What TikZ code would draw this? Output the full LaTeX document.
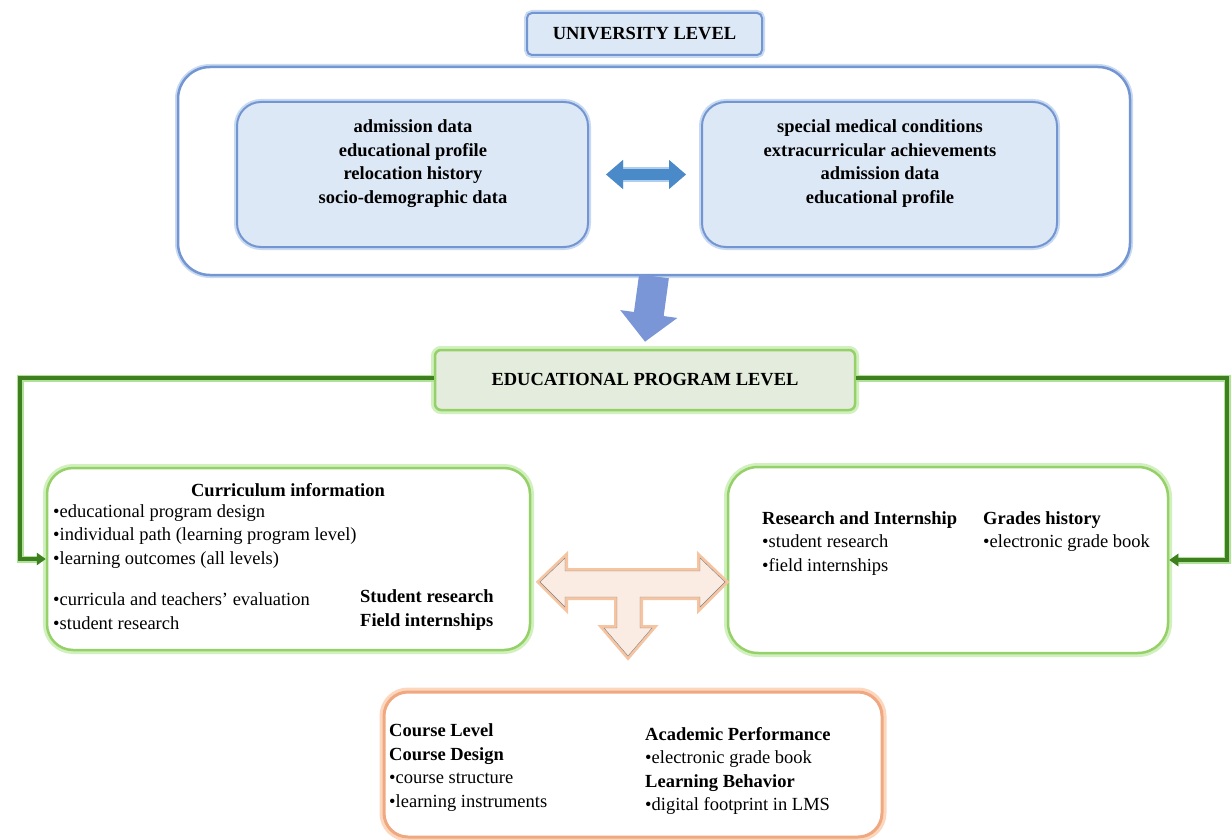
\documentclass[tikz,border=0pt]{standalone}
\usepackage{fontspec}
\setmainfont{Liberation Serif}
\usetikzlibrary{arrows.meta,positioning}

\definecolor{uniline}{RGB}{115,150,210}
\definecolor{uniglow}{RGB}{200,218,242}
\definecolor{unifill}{RGB}{221,232,246}
\definecolor{swapblue}{RGB}{75,138,200}
\definecolor{swapglow}{RGB}{175,205,238}
\definecolor{passblue}{RGB}{122,150,214}
\definecolor{progline}{RGB}{150,208,105}
\definecolor{progglow}{RGB}{208,240,190}
\definecolor{progfill}{RGB}{228,236,222}
\definecolor{linkgreen}{RGB}{62,128,32}
\definecolor{linkglow}{RGB}{175,225,150}
\definecolor{courseline}{RGB}{240,168,128}
\definecolor{courseglow}{RGB}{252,215,190}
\definecolor{teefill}{RGB}{250,236,226}
\definecolor{teeglow}{RGB}{246,196,160}

\begin{document}
\begin{tikzpicture}[
  x=1pt,y=-1pt,
  txt/.style={font=\fontsize{18.5}{23.5}\selectfont,inner sep=0pt,align=left},
  bold/.style={font=\fontsize{18.5}{23.5}\selectfont\bfseries,inner sep=0pt},
  box/.style={rectangle,inner sep=0pt},
  unibox/.style={box,draw=uniline,line width=2pt,fill=unifill,
    preaction={draw=uniglow,line width=6pt}},
  progbox/.style={box,draw=progline,line width=2.5pt,
    preaction={draw=progglow,line width=8pt}},
  coursebox/.style={box,draw=courseline,line width=3pt,fill=white,
    preaction={draw=courseglow,line width=9pt}},
  link/.style={draw=linkgreen,line width=4pt,-{Triangle[width=12pt,length=9pt]},
    preaction={draw=linkglow,line width=7pt}},
  swap/.style={draw=swapblue,line width=11pt,
    {Triangle[width=28pt,length=17pt]}-{Triangle[width=28pt,length=17pt]}},
  pass/.style={draw=passblue,line width=30pt,-{Triangle[width=56pt,length=28pt]}},
  tee/.style={fill=teefill,draw=gray,thin,preaction={draw=teeglow,line width=6pt}}]

  \useasboundingbox (0,0) rectangle (1231,840);

  % university level
  \node[unibox,rounded corners=5pt,minimum width=235pt,minimum height=42pt]
    (uni) at (644.5,34) {};
  \node[bold] (unitxt) at (uni.center) {UNIVERSITY LEVEL};
  \node[unibox,fill=white,line width=2.5pt,rounded corners=32pt,
    minimum width=952pt,minimum height=208pt] (outer) at (654,171) {};
  \node[unibox,rounded corners=24pt,minimum width=351pt,minimum height=145pt]
    (demoL) at (412.5,174.5) {};
  \node[unibox,rounded corners=24pt,minimum width=355pt,minimum height=145pt]
    (demoR) at (879.5,174.5) {};
  \node[bold,align=center] (demoLtxt) at (413,163.5)
    {admission data\\educational profile\\relocation history\\socio-demographic data};
  \node[bold,align=center] (demoRtxt) at (880,163.5)
    {special medical conditions\\extracurricular achievements\\admission data\\educational profile};
  \draw[swap,preaction={draw=swapglow,line width=15pt}]
    ([xshift=17pt]demoL.east) -- ([xshift=-15pt]demoR.west);

  % educational program level
  \node[progbox,fill=progfill,rounded corners=6pt,minimum width=420pt,
    minimum height=60pt] (prog) at (645,380) {};
  \node[bold] (progtxt) at (prog.center) {EDUCATIONAL PROGRAM LEVEL};
  \draw[pass] (outer.south) -- ([yshift=7pt]prog.north);

  \node[progbox,fill=white,rounded corners=26pt,minimum width=483pt,
    minimum height=182pt] (curr) at (288.5,559) {};
  \node[progbox,fill=white,rounded corners=30pt,minimum width=440pt,
    minimum height=186pt] (rsch) at (948,560) {};

  \coordinate (bendL) at (20,378);
  \coordinate (bendR) at (1227,378);
  \draw[link] (prog.west |- bendL) -- (bendL) |- (curr.west);
  \draw[link] (prog.east |- bendR) -- (bendR) |- (rsch.east);

  \node[bold] (currhead) at (288,490) {Curriculum information};
  \node[txt,anchor=west] (currlist) at (53,536.5)
    {•educational program design\\•individual path (learning program level)\\•learning outcomes (all levels)};
  \node[txt,anchor=west] (evallist) at (53,611)
    {•curricula and teachers’ evaluation\\•student research};
  \node[bold,align=left,anchor=west] (fieldhead) at (360,610)
    {Student research\\Field internships};

  \node[txt,anchor=west] (rschlist) at (762,543.5)
    {\textbf{Research and Internship}\\•student research\\•field internships};
  \node[txt,anchor=west] (gradelist) at (983,531.5)
    {\textbf{Grades history}\\•electronic grade book};

  % the T arrow between the program boxes and the course level
  \begin{scope}[shift={(628,582)}]
    \draw[tee] (-88,0) -- (-63,-24) -- (-63,-11) -- (72,-11) -- (72,-24)
      -- (97,0) -- (72,25) -- (72,15) -- (12,15) -- (12,46) -- (24,46)
      -- (0,74) -- (-24,46) -- (-11,46) -- (-11,15) -- (-63,15) -- (-63,25)
      -- cycle;
  \end{scope}

  % course level
  \node[coursebox,rounded corners=24pt,minimum width=498pt,minimum height=145pt]
    (course) at (633,764.5) {};
  \node[txt,anchor=west] (courseL) at (389,767.5)
    {\textbf{Course Level}\\\textbf{Course Design}\\•course structure\\•learning instruments};
  \node[txt,anchor=west] (courseR) at (645,771)
    {\textbf{Academic Performance}\\•electronic grade book\\\textbf{Learning Behavior}\\•digital footprint in LMS};
\end{tikzpicture}
\end{document}
